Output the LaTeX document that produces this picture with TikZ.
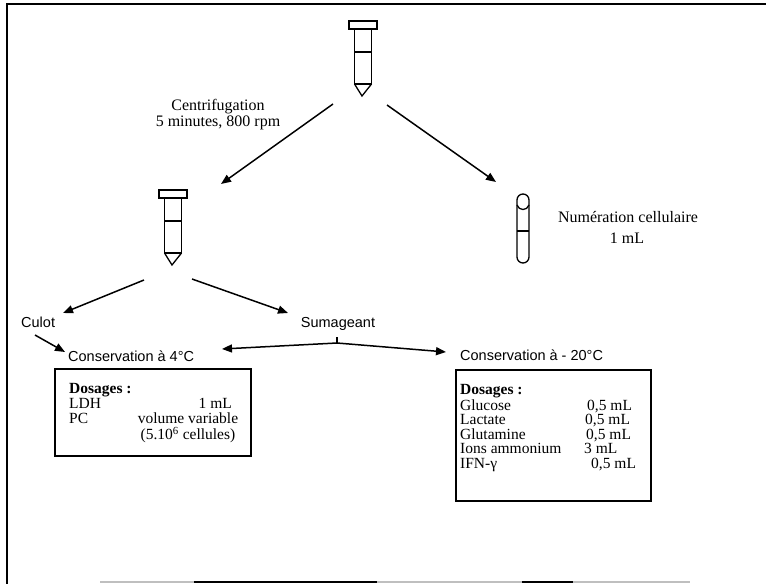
\documentclass[tikz,border=0pt]{standalone}
\usepackage{fontspec}
\setmainfont{Liberation Serif}
\newfontfamily\arialfont{Liberation Sans}
\usetikzlibrary{arrows.meta}

\begin{document}
\begin{tikzpicture}[x=1pt,y=-1pt]
        \tikzstyle{arr}=[line width=1.5pt,-{Triangle[length=10pt,width=8pt]}]
        \tikzstyle{tube}=[line width=1.3pt]
        \tikzstyle{txt}=[inner sep=0pt,anchor=base west,font=\fontsize{16}{19}\selectfont]
        \tikzstyle{btxt}=[inner sep=0pt,anchor=base west,font=\fontsize{15.5}{18}\selectfont]
        \tikzstyle{stxt}=[inner sep=0pt,anchor=base west,font=\arialfont\fontsize{14.5}{17}\selectfont]
        \tikzstyle{dosbox}=[draw,line width=1.4pt,inner sep=0pt]
        \useasboundingbox (0,0) rectangle (766,584);
        % frame
        \draw[line width=1.8pt] (6,4) -- (766,4);
        \draw[line width=1.4pt] (7,4) -- (7,584);
        \draw[gray!50,line width=1.2pt] (100,582) -- (690,582);
        \draw[line width=1.2pt] (194,582) -- (377,582) (522,582) -- (573,582);
        % tubes
        \foreach \tx/\ty in {363/21, 173/190} {
          \draw[tube] (\tx-14,\ty) rectangle (\tx+14,\ty+8);
          \draw[tube] (\tx-8.5,\ty+8) rectangle (\tx+8.5,\ty+63);
          \draw[tube] (\tx-8.5,\ty+31) -- (\tx+8.5,\ty+31);
          \draw[tube] (\tx-8.5,\ty+63) -- (\tx-1,\ty+75) -- (\tx+8.5,\ty+63);
        }
        \draw[tube] (517,257) -- (517,200) arc[start angle=180,end angle=360,radius=6]
          -- (529,257) arc[start angle=0,end angle=180,radius=6];
        \draw[tube] (517,205) .. controls (519,211) and (527,211) .. (529,205);
        \draw[tube] (517,231) -- (529,231);
        % labels
        \node[txt,anchor=base] (centri) at (218,110) {Centrifugation};
        \node[txt,anchor=base] (centrispeed) at (218,126) {5 minutes, 800 rpm};
        \node[txt,anchor=base] (numer) at (628,222) {Numération cellulaire};
        \node[txt,anchor=base] (numervol) at (627,243) {1 mL};
        \node[stxt] (culot) at (21,327) {Culot};
        \node[stxt,anchor=base] (sumag) at (338,327) {Sumageant};
        \node[stxt] (cons4) at (68,361) {Conservation à 4°C};
        \node[stxt] (cons20) at (460,360) {Conservation à - 20°C};
        % boxes
        \node[dosbox,minimum width=196pt,minimum height=87pt] (box4) at (153,412.5) {};
        \node[btxt] (dos4) at (69,393) {\textbf{Dosages :}};
        \node[btxt] (ldh) at (69,408) {LDH};
        \node[btxt,anchor=base east] (ldhvol) at (232,408) {1 mL};
        \node[btxt] (pc) at (69,423) {PC};
        \node[btxt,anchor=base] (pcvol) at (188,423) {volume variable};
        \node[btxt,anchor=base] (pccell) at (188,439.5) {(5.10\textsuperscript{6} cellules)};
        \node[dosbox,minimum width=195pt,minimum height=131pt] (box20) at (553.5,435.5) {};
        \node[btxt] (dos20) at (460,394) {\textbf{Dosages :}};
        \foreach \lab/\val/\vx/\vy [count=\i] in {Glucose/{0,5 mL}/587/410, Lactate/{0,5 mL}/585/424.5,
            Glutamine/{0,5 mL}/586/439, Ions ammonium/{3 mL}/584/453.5, IFN-γ/{0,5 mL}/591/468} {
          \node[btxt] (dl\i) at (460,\vy) {\lab};
          \node[btxt] (dv\i) at (\vx,\vy) {\val};
        }
        % arrows
        \coordinate (topL) at (333,104);
        \coordinate (midT) at (221,184);
        \coordinate (topR) at (387,105);
        \coordinate (smallT) at (496,182);
        \coordinate (midL) at (144,280);
        \coordinate (culotT) at (63,313);
        \coordinate (midR) at (192,279);
        \coordinate (sumagT) at (288,313);
        \coordinate (culotS) at (35,335);
        \coordinate (cons4T) at (65,352);
        \coordinate (sumagB) at (337,337);
        \coordinate (split) at (337,343);
        \coordinate (c4tip) at (222,349);
        \coordinate (c20tip) at (446,352);
        \draw[arr] (topL) -- (midT);
        \draw[arr] (topR) -- (smallT);
        \draw[arr] (midL) -- (culotT);
        \draw[arr] (midR) -- (sumagT);
        \draw[arr] (culotS) -- (cons4T);
        \draw[line width=1.5pt] (sumagB) -- (split);
        \draw[arr] (split) -- (c4tip);
        \draw[arr] (split) -- (c20tip);
      \end{tikzpicture}
\end{document}
